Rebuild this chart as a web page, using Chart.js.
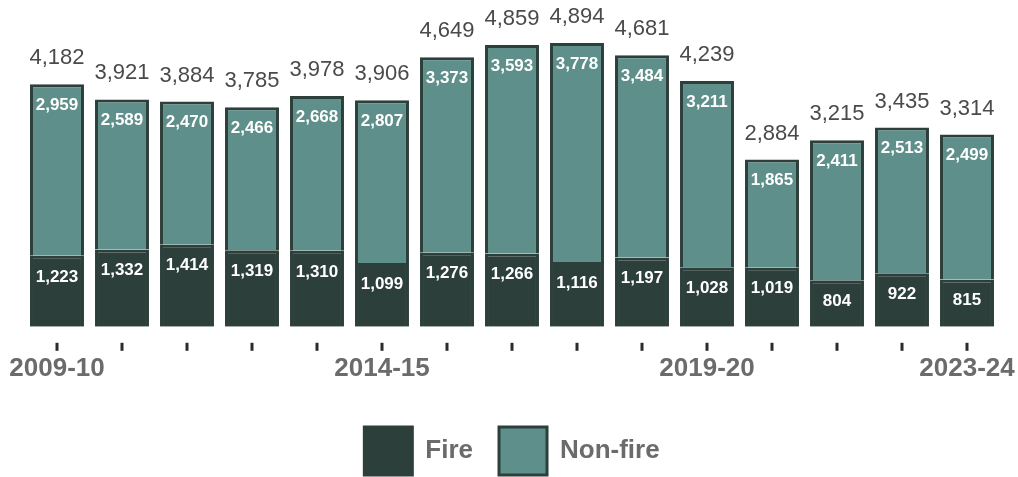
<!DOCTYPE html>
<html>
<head>
<meta charset="utf-8">
<script src="https://cdn.jsdelivr.net/npm/chart.js@4/dist/chart.umd.min.js"></script>
<style>
  html, body { margin: 0; padding: 0; background: #fff; }
  #wrap { width: 1018px; height: 477px; position: relative; }
</style>
</head>
<body>
<div id="wrap"><canvas id="chart-fires"></canvas></div>
<script>
// Setup
const years = ['2009-10', '2010-11', '2011-12', '2012-13', '2013-14', '2014-15', '2015-16', '2016-17',
  '2017-18', '2018-19', '2019-20', '2020-21', '2021-22', '2022-23', '2023-24'];
const fire = [1223, 1332, 1414, 1319, 1310, 1099, 1276, 1266, 1116, 1197, 1028, 1019, 804, 922, 815];
const nonFire = [2959, 2589, 2470, 2466, 2668, 2807, 3373, 3593, 3778, 3484, 3211, 1865, 2411, 2513, 2499];
const shownYears = ['2009-10', '2014-15', '2019-20', '2023-24'];

const totals = fire.map((v, i) => v + nonFire[i]);

const FONT = '"Liberation Sans", Arial, sans-serif';
const DARK = '#2c3f3b';
const TEAL = '#5f8f8a';

const fmt = (n) => n.toLocaleString('en-US');

// white numbers inside each segment, totals above the bar, tick marks under the axis
const barLabels = {
  id: 'barLabels',
  afterDatasetsDraw(chart) {
    const ctx = chart.ctx;
    const fireMeta = chart.getDatasetMeta(0);
    const nonMeta = chart.getDatasetMeta(1);
    ctx.save();
    ctx.textAlign = 'center';
    ctx.textBaseline = 'middle';

    fireMeta.data.forEach((bar, i) => {
      ctx.fillStyle = '#ffffff';
      ctx.font = 'bold 17px ' + FONT;
      ctx.fillText(fmt(fire[i]), bar.x, bar.y + 21);
    });

    nonMeta.data.forEach((bar, i) => {
      ctx.fillStyle = '#ffffff';
      ctx.font = 'bold 17px ' + FONT;
      ctx.fillText(fmt(nonFire[i]), bar.x, bar.y + 21);

      ctx.fillStyle = '#4a4a4a';
      ctx.font = '22px ' + FONT;
      ctx.fillText(fmt(totals[i]), bar.x, bar.y - 26);
    });

    // small ticks below the bars
    const bottom = chart.chartArea.bottom;
    ctx.fillStyle = '#2b2b2b';
    fireMeta.data.forEach((bar) => {
      ctx.fillRect(Math.round(bar.x) - 1.5, bottom + 16, 3, 8);
    });
    ctx.restore();
  }
};

const data = {
  labels: years,
  datasets: [
    {
      label: 'Fire',
      data: fire,
      backgroundColor: DARK,
      borderColor: DARK,
      borderWidth: 3,
      barPercentage: 0.83,
      categoryPercentage: 1
    },
    {
      label: 'Non-fire',
      data: nonFire,
      backgroundColor: TEAL,
      borderColor: DARK,
      borderWidth: 3,
      barPercentage: 0.83,
      categoryPercentage: 1
    }
  ]
};

const config = {
  type: 'bar',
  data: data,
  options: {
    responsive: true,
    maintainAspectRatio: false,
    animation: false,
    layout: {
      padding: { top: 20, bottom: -8, left: 24.5, right: 18.5 }
    },
    plugins: {
      tooltip: { enabled: false },
      legend: {
        position: 'bottom',
        labels: {
          boxWidth: 48,
          boxHeight: 48,
          padding: 26,
          color: '#6b6b6b',
          font: { family: FONT, size: 26, weight: 'bold' }
        }
      }
    },
    scales: {
      x: {
        stacked: true,
        grid: { display: false },
        border: { display: false },
        afterFit(scale) {
          // edge labels may hang past the plot area
          scale.paddingLeft = 0;
          scale.paddingRight = 0;
          scale.height -= 1;
        },
        ticks: {
          autoSkip: false,
          maxRotation: 0,
          padding: 18,
          color: '#6b6b6b',
          font: { family: FONT, size: 26, weight: 'bold' },
          callback: function (value) {
            const lbl = this.getLabelForValue(value);
            return shownYears.includes(lbl) ? lbl : '';
          }
        }
      },
      y: {
        stacked: true,
        display: false,
        min: 0,
        max: 5290
      }
    }
  },
  plugins: [barLabels]
};

const myChart = new Chart(document.getElementById('chart-fires'), config);
</script>
</body>
</html>
